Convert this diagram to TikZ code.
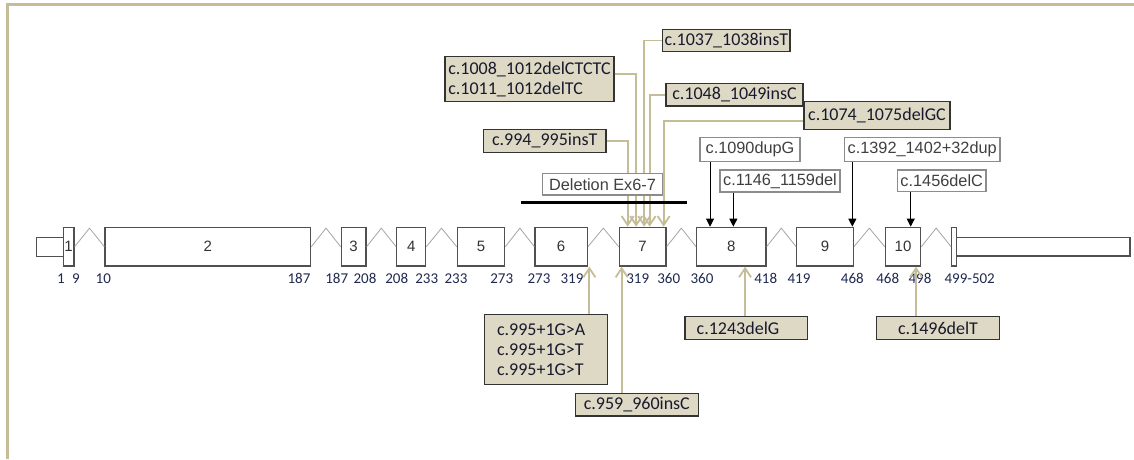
\documentclass[tikz,border=0pt]{standalone}
\usepackage{fontspec}
\setmainfont{Liberation Sans}
\newfontfamily\calibri{Carlito}
\usepackage{tikz}
\usetikzlibrary{arrows.meta, calc}

\definecolor{frametan}{RGB}{196,189,151}
\definecolor{boxtan}{RGB}{221,217,196}
\definecolor{numblue}{RGB}{31,40,80}
\definecolor{exongray}{RGB}{80,80,80}
\definecolor{introngray}{RGB}{165,165,165}
\definecolor{labelink}{RGB}{25,25,45}

\begin{document}
\begin{tikzpicture}[x=1pt, y=-1pt,
    exon/.style={draw=exongray, line width=1.3pt, fill=white, inner sep=0pt, minimum height=38.7pt, font=\fontsize{15}{17}\selectfont, text=black!80},
    utr/.style={draw=exongray, line width=1.3pt, fill=white, inner sep=0pt},
    intron/.style={introngray, line width=0.8pt},
    posnum/.style={font=\calibri\fontsize{15}{17}\selectfont, text=numblue, inner sep=0pt},
    tanbox/.style={draw=black!80, line width=1.3pt, fill=boxtan, inner sep=0pt, align=left, text=labelink, font=\calibri\fontsize{18}{20}\selectfont},
    whitebox/.style={draw=black!45, line width=1.3pt, fill=white, inner sep=0pt, text=black!75, font=\fontsize{16.3}{19}\selectfont},
    tanarrow/.style={frametan, line width=1.8pt, -{Straight Barb[length=9pt,width=12pt]}},
    blackarrow/.style={black, line width=0.9pt, -{Triangle[length=8pt,width=8pt]}}
  ]
    \useasboundingbox (0,0) rectangle (1134,459);
    \draw[frametan, line width=2.6pt] (7.5,459) -- (7.5,4.5) -- (1134,4.5);

    % UTR ends
    \node[utr, minimum width=26.6pt, minimum height=19.4pt] (utr5) at (50,247) {};
    \node[utr, minimum width=173.3pt, minimum height=18.7pt] (utr3) at (1043.35,246.7) {};

    % exons
    \foreach \n/\l/\r [evaluate=\r as \w using \r-\l] in {1/63.3/74, 2/105/310.7, 3/341.3/366, 4/396.7/425.7, 5/457.3/504.7, 6/535/587.3, 7/619.3/666, 8/696.7/766, 9/796.7/853.3, 10/885.3/920.7}
        \node[exon, minimum width=\w pt] (ex\n) at ({(\l+\r)/2},246.65) {\n};
    \node[exon, minimum width=5pt] (ex11) at (954.2,246.65) {};

    % introns
    \foreach \a/\b in {1/2, 2/3, 3/4, 4/5, 5/6, 6/7, 7/8, 8/9, 9/10, 10/11}
        \draw[intron] (ex\a.east) -- ($(ex\a.east)!0.5!(ex\b.west) + (0,-18.5)$) -- (ex\b.west);

    % positions
    \foreach \x/\t [count=\i] in {61/1, 76/9, 103.3/10, 299/187, 336.7/187, 365/208, 396.7/208, 426.7/233, 456/233, 501.7/273, 539/273, 572/319, 637.7/319, 668.7/360, 702/360, 765.7/418, 799/419, 852.3/468, 887.7/468, 920/498, 969.7/499-502}
        \node[posnum] (p\i) at (\x,278.5) {\t};

    % mutations above exon 7
    \node[tanbox, minimum width=127.3pt, minimum height=22.4pt] (m1037) at (726.3,40.5) {c.1037\_1038insT};
    \node[tanbox, minimum width=169pt, minimum height=45pt] (m1008) at (529.5,79.2) {c.1008\_1012delCTCTC\\c.1011\_1012delTC};
    \node[tanbox, minimum width=137pt, minimum height=22.7pt] (m1048) at (734.5,94.7) {c.1048\_1049insC};
    \node[tanbox, minimum width=146pt, minimum height=27.6pt] (m1074) at (877,115.5) {c.1074\_1075delGC};
    \node[tanbox, minimum width=122.7pt, minimum height=23pt] (m994) at (544.7,140.8) {c.994\_995insT};

    \draw[tanarrow] (m994.east) -| ([xshift=9pt]ex7.north west);
    \draw[tanarrow] ([yshift=5pt]m1008.east) -| ([xshift=17.5pt]ex7.north west);
    \draw[tanarrow] (m1037.west) -| ([xshift=25.5pt]ex7.north west);
    \draw[tanarrow] (m1048.west) -| ([xshift=31pt]ex7.north west);
    \draw[tanarrow] ([yshift=-5.5pt]m1074.west) -| ([xshift=45pt]ex7.north west);

    % deletion of exons 6-7
    \node[whitebox, minimum width=119.6pt, minimum height=21.7pt] (del67) at (602.5,184.2) {Deletion Ex6-7};
    \draw[line width=3.5pt] (520.7,202.3) -- (687.3,202.3);

    % other mutations above
    \node[whitebox, minimum width=100pt, minimum height=24.4pt] (d1090) at (750,149.5) {c.1090dupG};
    \node[whitebox, minimum width=120pt, minimum height=22pt] (d1146) at (780,181) {c.1146\_1159del};
    \node[whitebox, minimum width=155.7pt, minimum height=24.4pt] (d1392) at (922.2,149.5) {c.1392\_1402+32dup};
    \node[whitebox, minimum width=88.7pt, minimum height=21.7pt] (d1456) at (941.7,180.8) {c.1456delC};

    \coordinate (t1090) at ([xshift=14pt]ex8.north west);
    \coordinate (t1146) at ([xshift=37.3pt]ex8.north west);
    \coordinate (t1392) at ([xshift=-1.6pt]ex9.north east);
    \coordinate (t1456) at ([xshift=7.7pt]ex10.north);
    \draw[blackarrow] (t1090 |- d1090.south) -- (t1090);
    \draw[blackarrow] (t1146 |- d1146.south) -- (t1146);
    \draw[blackarrow] (t1392 |- d1392.south) -- (t1392);
    \draw[blackarrow] (t1456 |- d1456.south) -- (t1456);

    % mutations below
    \node[tanbox, minimum width=122.6pt, minimum height=70pt, text width=98pt] (m995) at (546,349.7) {c.995+1G>A\\c.995+1G>T\\c.995+1G>T};
    \node[tanbox, minimum width=123pt, minimum height=22.7pt] (m959) at (636.8,404.7) {c.959\_960insC};
    \node[tanbox, minimum width=122.3pt, minimum height=22.6pt, text width=99pt] (m1243) at (746.2,328) {c.1243delG};
    \node[tanbox, minimum width=122.6pt, minimum height=22.6pt] (m1496) at (938,328) {c.1496delT};

    \coordinate (b995) at ([xshift=1.4pt]ex6.south east);
    \coordinate (b959) at ([xshift=3pt]ex7.south west);
    \coordinate (b1243) at ([xshift=13.7pt]ex8.south);
    \coordinate (b1496) at ([xshift=13pt]ex10.south);
    \draw[tanarrow] (b995 |- m995.north) -- (b995);
    \draw[tanarrow] (b959 |- m959.north) -- (b959);
    \draw[tanarrow] (b1243 |- m1243.north) -- (b1243);
    \draw[tanarrow] (b1496 |- m1496.north) -- (b1496);
\end{tikzpicture}
\end{document}
